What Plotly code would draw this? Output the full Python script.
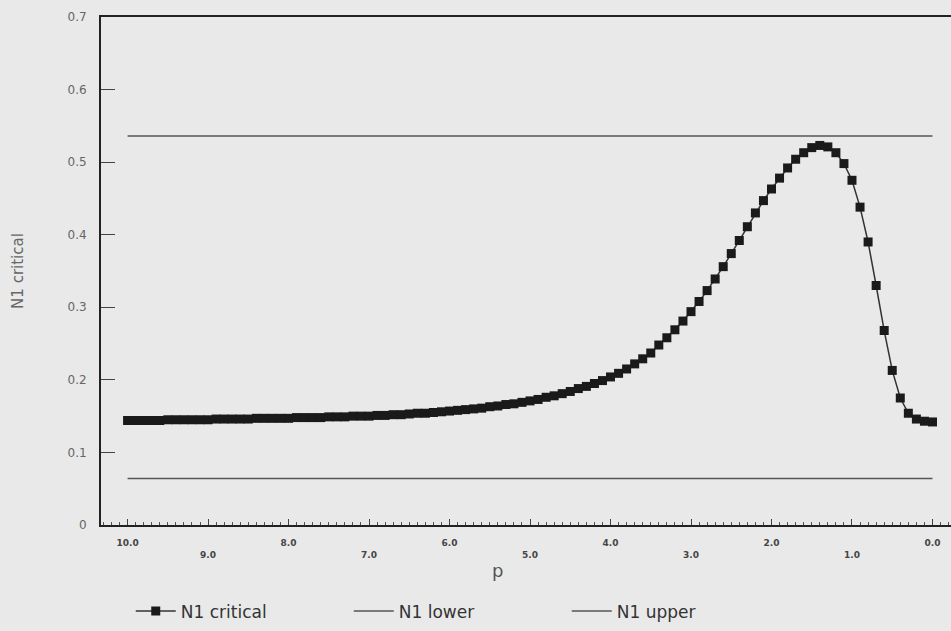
import plotly.graph_objects as go

# p values from 10.0 down to 0.0 in 0.1 steps
p_values = [10.0, 9.9, 9.8, 9.7, 9.6, 9.5, 9.4, 9.3, 9.2, 9.1,
            9.0, 8.9, 8.8, 8.7, 8.6, 8.5, 8.4, 8.3, 8.2, 8.1,
            8.0, 7.9, 7.8, 7.7, 7.6, 7.5, 7.4, 7.3, 7.2, 7.1,
            7.0, 6.9, 6.8, 6.7, 6.6, 6.5, 6.4, 6.3, 6.2, 6.1,
            6.0, 5.9, 5.8, 5.7, 5.6, 5.5, 5.4, 5.3, 5.2, 5.1,
            5.0, 4.9, 4.8, 4.7, 4.6, 4.5, 4.4, 4.3, 4.2, 4.1,
            4.0, 3.9, 3.8, 3.7, 3.6, 3.5, 3.4, 3.3, 3.2, 3.1,
            3.0, 2.9, 2.8, 2.7, 2.6, 2.5, 2.4, 2.3, 2.2, 2.1,
            2.0, 1.9, 1.8, 1.7, 1.6, 1.5, 1.4, 1.3, 1.2, 1.1,
            1.0, 0.9, 0.8, 0.7, 0.6, 0.5, 0.4, 0.3, 0.2, 0.1,
            0.0]

n1_critical = [0.144, 0.144, 0.144, 0.144, 0.144, 0.145, 0.145, 0.145, 0.145, 0.145,
               0.145, 0.146, 0.146, 0.146, 0.146, 0.146, 0.147, 0.147, 0.147, 0.147,
               0.147, 0.148, 0.148, 0.148, 0.148, 0.149, 0.149, 0.149, 0.150, 0.150,
               0.150, 0.151, 0.151, 0.152, 0.152, 0.153, 0.154, 0.154, 0.155, 0.156,
               0.157, 0.158, 0.159, 0.160, 0.161, 0.163, 0.164, 0.166, 0.167, 0.169,
               0.171, 0.173, 0.176, 0.178, 0.181, 0.184, 0.188, 0.191, 0.195, 0.199,
               0.204, 0.209, 0.215, 0.222, 0.229, 0.237, 0.248, 0.258, 0.269, 0.281,
               0.294, 0.308, 0.323, 0.339, 0.356, 0.374, 0.392, 0.411, 0.430, 0.447,
               0.463, 0.478, 0.492, 0.504, 0.513, 0.520, 0.523, 0.521, 0.513, 0.498,
               0.475, 0.438, 0.390, 0.330, 0.268, 0.213, 0.175, 0.154, 0.146, 0.143,
               0.142]

bound_p = [10.0, 0.0]
n1_lower = [0.064, 0.064]
n1_upper = [0.536, 0.536]

x_tick_vals = [10.0, 9.0, 8.0, 7.0, 6.0, 5.0, 4.0, 3.0, 2.0, 1.0, 0.0]
x_tick_text = ["10.0", "\u00a0<br>9.0", "8.0", "\u00a0<br>7.0", "6.0", "\u00a0<br>5.0",
               "4.0", "\u00a0<br>3.0", "2.0", "\u00a0<br>1.0", "0.0"]
y_tick_vals = [0, 0.1, 0.2, 0.3, 0.4, 0.5, 0.6, 0.7]
y_tick_text = ["0", "0.1", "0.2", "0.3", "0.4", "0.5", "0.6", "0.7"]

BG = "#e9e9e9"
FONT = "DejaVu Sans"

fig = go.Figure()
fig.add_trace(go.Scatter(
    x=p_values, y=n1_critical, name="N1 critical", mode="lines+markers",
    line=dict(color="#333333", width=1.5),
    marker=dict(symbol="square", size=9, color="#1a1a1a"),
))
fig.add_trace(go.Scatter(
    x=bound_p, y=n1_lower, name="N1 lower", mode="lines",
    line=dict(color="#555555", width=1.5),
))
fig.add_trace(go.Scatter(
    x=bound_p, y=n1_upper, name="N1 upper", mode="lines",
    line=dict(color="#555555", width=1.5),
))

fig.update_layout(
    width=951, height=631,
    margin=dict(l=101, r=0, t=17, b=106),
    paper_bgcolor=BG, plot_bgcolor=BG,
    font=dict(family=FONT, color="#555555"),
    showlegend=True,
    legend=dict(orientation="h", x=0.035, y=-0.17, xanchor="left", yanchor="middle",
                font=dict(size=17, color="#333333", family=FONT),
                entrywidth=163, entrywidthmode="pixels", bgcolor="rgba(0,0,0,0)",
                itemwidth=40),
    xaxis=dict(
        range=[10.33, -0.23], showgrid=False, zeroline=False,
        showline=True, linecolor="#222222", linewidth=2, mirror=True,
        ticks="inside", ticklen=6, tickcolor="#444444", tickwidth=1,
        tickvals=x_tick_vals, ticktext=x_tick_text,
        tickfont=dict(size=9, color="#444444", family=FONT, weight="bold"),
        ticklabelstandoff=8,
        minor=dict(dtick=0.1, ticks="inside", ticklen=3, tickcolor="#555555", tickwidth=1),
    ),
    yaxis=dict(
        range=[0, 0.7], showgrid=False, zeroline=False,
        showline=True, linecolor="#222222", linewidth=2,
        ticks="inside", ticklen=14, tickcolor="#444444", tickwidth=1,
        tickvals=y_tick_vals, ticktext=y_tick_text,
        tickfont=dict(size=12, color="#666666", family=FONT),
        ticklabelstandoff=10,
        title=dict(text="N1 critical", font=dict(size=15, color="#666666", family=FONT),
                   standoff=40),
    ),
    annotations=[dict(text="p", xref="paper", yref="paper", x=0.466, y=-0.09,
                      xanchor="center", yanchor="middle", showarrow=False,
                      font=dict(size=18, color="#555555", family=FONT))],
)

fig.write_html("out.html", config={"displayModeBar": False},
               post_script="document.body.style.margin='0';document.body.style.overflow='hidden';")
